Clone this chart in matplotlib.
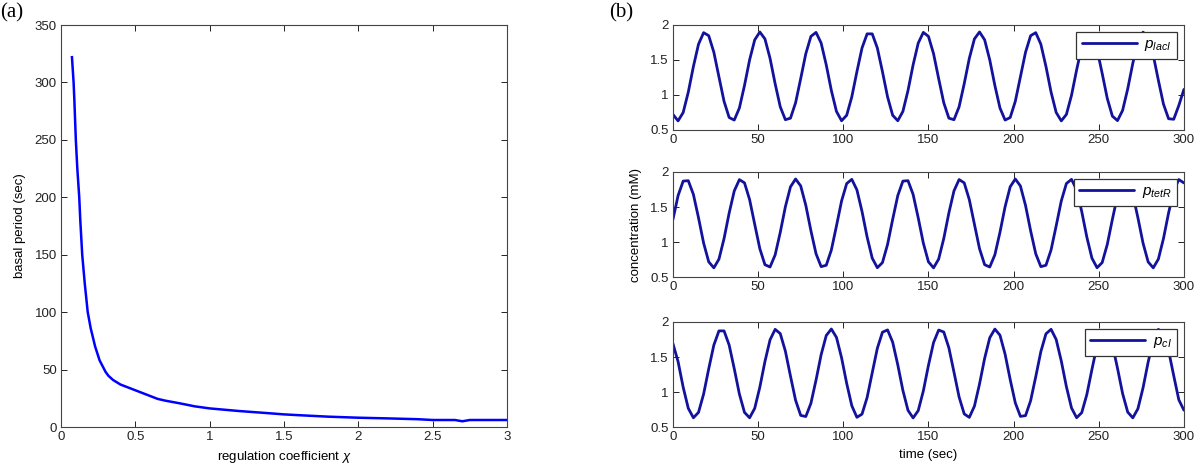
import numpy as np
import matplotlib
matplotlib.use("Agg")
import matplotlib.pyplot as plt

plt.rcParams['font.family'] = ['Liberation Sans', 'DejaVu Sans']
plt.rcParams['mathtext.fontset'] = 'custom'
plt.rcParams['mathtext.it'] = 'Liberation Sans:italic'
plt.rcParams['mathtext.rm'] = 'Liberation Sans'

# (a) basal period vs regulation coefficient
chi = [0.074, 0.08, 0.085, 0.09, 0.10, 0.11, 0.123, 0.13, 0.143, 0.16, 0.18, 0.2,
       0.23, 0.26, 0.3, 0.32, 0.35, 0.4, 0.45, 0.5, 0.6, 0.65, 0.7, 0.8, 0.9, 1.0,
       1.2, 1.4, 1.5, 1.6, 1.8, 2.0, 2.2, 2.4, 2.5, 2.65, 2.7, 2.75, 3.0]
period = [322, 310, 300, 285, 250, 225, 200, 180, 150, 125, 100, 86,
          70, 58, 48, 44.5, 41, 37, 34.5, 32, 27, 24.5, 23, 20.6, 18, 16.2,
          13.9, 12, 11, 10.3, 9, 8.1, 7.5, 6.8, 6.1, 6.1, 5, 6.1, 6.1]

# (b) protein concentrations, sampled every 3 sec from 0 to 300
t = np.arange(0, 301, 3)
p_laci = [0.722, 0.630, 0.750, 1.041, 1.406, 1.725, 1.890, 1.847, 1.611, 1.259,
          0.909, 0.678, 0.642, 0.814, 1.136, 1.501, 1.787, 1.900, 1.801, 1.524,
          1.160, 0.831, 0.647, 0.669, 0.889, 1.234, 1.590, 1.837, 1.894, 1.742,
          1.430, 1.064, 0.765, 0.632, 0.710, 0.973, 1.333, 1.671, 1.873, 1.873,
          1.671, 1.333, 0.973, 0.710, 0.632, 0.765, 1.064, 1.430, 1.741, 1.894,
          1.837, 1.590, 1.234, 0.889, 0.669, 0.647, 0.831, 1.160, 1.523, 1.801,
          1.900, 1.787, 1.501, 1.136, 0.814, 0.642, 0.678, 0.909, 1.259, 1.610,
          1.847, 1.890, 1.725, 1.407, 1.041, 0.750, 0.630, 0.722, 0.995, 1.357,
          1.689, 1.880, 1.865, 1.651, 1.309, 0.951, 0.698, 0.634, 0.780, 1.087,
          1.454, 1.757, 1.897, 1.826, 1.568, 1.210, 0.869, 0.661, 0.653, 0.850,
          1.080]
p_tetr = [1.323, 1.662, 1.870, 1.876, 1.680, 1.346, 0.985, 0.717, 0.631, 0.755,
          1.049, 1.414, 1.730, 1.891, 1.845, 1.606, 1.253, 0.905, 0.676, 0.643,
          0.816, 1.138, 1.503, 1.788, 1.900, 1.801, 1.524, 1.161, 0.833, 0.648,
          0.668, 0.886, 1.230, 1.586, 1.835, 1.895, 1.745, 1.437, 1.071, 0.769,
          0.633, 0.706, 0.965, 1.323, 1.663, 1.870, 1.876, 1.680, 1.345, 0.985,
          0.717, 0.631, 0.756, 1.050, 1.415, 1.731, 1.892, 1.845, 1.605, 1.253,
          0.904, 0.676, 0.643, 0.817, 1.139, 1.503, 1.789, 1.900, 1.800, 1.523,
          1.160, 0.832, 0.648, 0.668, 0.887, 1.231, 1.587, 1.835, 1.895, 1.745,
          1.436, 1.070, 0.769, 0.633, 0.706, 0.965, 1.324, 1.663, 1.870, 1.876,
          1.679, 1.345, 0.984, 0.716, 0.631, 0.756, 1.050, 1.416, 1.731, 1.892,
          1.844]
p_ci = [1.690, 1.435, 1.068, 0.767, 0.632, 0.709, 0.971, 1.332, 1.670, 1.873,
        1.873, 1.670, 1.332, 0.971, 0.709, 0.632, 0.767, 1.068, 1.435, 1.745,
        1.895, 1.834, 1.584, 1.227, 0.882, 0.666, 0.650, 0.839, 1.170, 1.533,
        1.807, 1.900, 1.780, 1.489, 1.123, 0.804, 0.639, 0.684, 0.922, 1.275,
        1.625, 1.854, 1.887, 1.712, 1.388, 1.023, 0.738, 0.630, 0.734, 1.015,
        1.380, 1.706, 1.885, 1.857, 1.631, 1.283, 0.929, 0.687, 0.638, 0.798,
        1.115, 1.481, 1.775, 1.899, 1.811, 1.541, 1.178, 0.845, 0.652, 0.663,
        0.876, 1.218, 1.577, 1.831, 1.896, 1.750, 1.443, 1.076, 0.772, 0.633,
        0.705, 0.964, 1.323, 1.664, 1.870, 1.875, 1.676, 1.340, 0.978, 0.713,
        0.631, 0.762, 1.060, 1.427, 1.740, 1.894, 1.838, 1.591, 1.235, 0.889,
        0.740]

series = [p_laci, p_tetr, p_ci]
labels = [r'$p_{lacI}$', r'$p_{tetR}$', r'$p_{cI}$']

fig = plt.figure(figsize=(12, 4.72), dpi=100)


def style(ax):
    ax.tick_params(direction='in', top=True, right=True, length=4,
                   width=0.7, labelsize=9.5, pad=3, colors='#222222')
    for s in ax.spines.values():
        s.set_color('#444444')
        s.set_linewidth(0.8)


ax = fig.add_axes([0.0508, 0.0953, 0.3717, 0.8517])
ax.plot(chi, period, color='#0000ff', lw=1.8, solid_joinstyle='round')
ax.set_xlim(0, 3)
ax.set_ylim(0, 350)
ax.set_xticks([0, 0.5, 1, 1.5, 2, 2.5, 3])
ax.set_xticklabels(['0', '0.5', '1', '1.5', '2', '2.5', '3'])
ax.set_yticks(range(0, 351, 50))
ax.set_xlabel(r'regulation coefficient $\chi$', fontsize=9.5, labelpad=4)
ax.set_ylabel('basal period (sec)', fontsize=9.5, labelpad=6)
style(ax)

bottoms = [0.7246, 0.4131, 0.0953]
axes_b = []
for i, (y, lab) in enumerate(zip(series, labels)):
    a = fig.add_axes([0.5608, bottoms[i], 0.4258, 0.2225])
    a.plot(t, y, color='#12129c', lw=2.0, label=lab,
           solid_joinstyle='round', solid_capstyle='round')
    a.set_xlim(0, 300)
    a.set_ylim(0.5, 2)
    a.set_xticks(range(0, 301, 50))
    a.set_yticks([0.5, 1, 1.5, 2])
    a.set_yticklabels(['0.5', '1', '1.5', '2'])
    leg = a.legend(loc='upper right', fontsize=11, handlelength=3.6,
                   fancybox=False, framealpha=1, borderpad=0.35,
                   handletextpad=0.5, borderaxespad=0.45)
    leg.get_frame().set_edgecolor('#333333')
    leg.get_frame().set_linewidth(0.9)
    style(a)
    axes_b.append(a)

axes_b[1].set_ylabel('concentration (mM)', fontsize=9.5, labelpad=6)
axes_b[2].set_xlabel('time (sec)', fontsize=9.5, labelpad=4)

fig.text(0.0, 0.972, '(a)', family='Liberation Serif', fontsize=15, va='center')
fig.text(0.508, 0.972, '(b)', family='Liberation Serif', fontsize=15, va='center')

plt.savefig('out.png', dpi=100)
